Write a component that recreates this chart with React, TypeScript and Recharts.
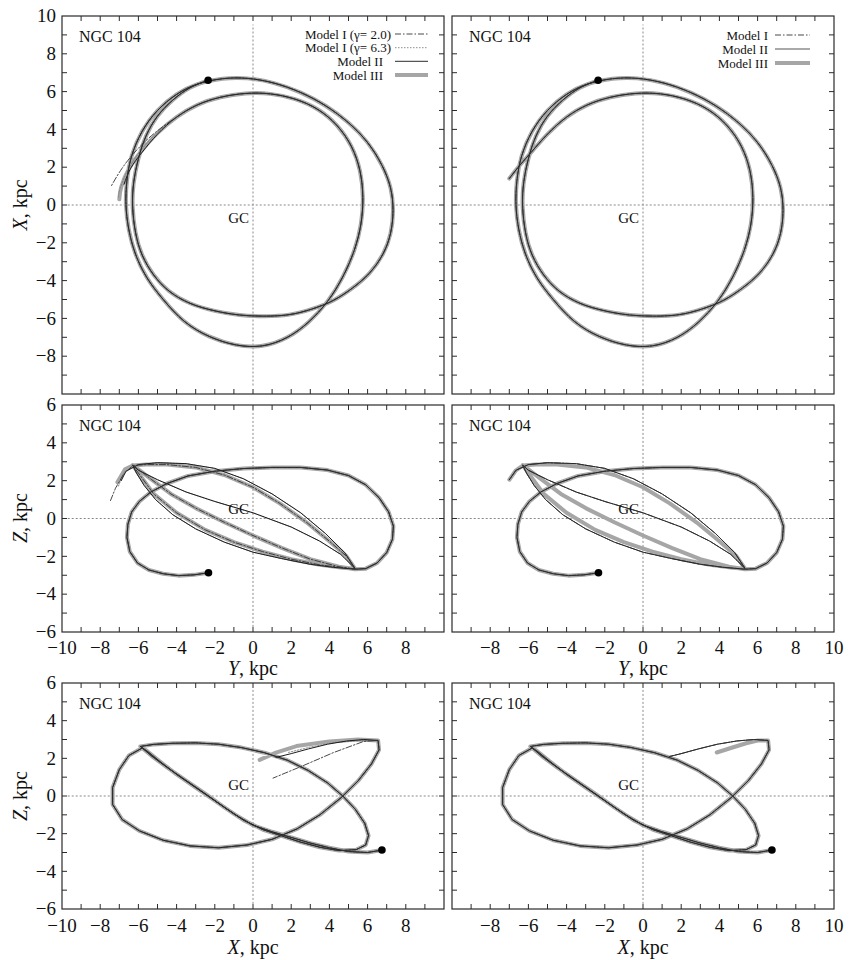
import React from 'react';
import { ScatterChart, Scatter, XAxis, YAxis, ReferenceLine } from 'recharts';

type Pt = [number, number];

// ---------- tick positions and labels ----------
const ticksH: number[] = [-10, -9, -8, -7, -6, -5, -4, -3, -2, -1, 0, 1, 2, 3, 4, 5, 6, 7, 8, 9, 10];
const ticksV10: number[] = [-10, -9, -8, -7, -6, -5, -4, -3, -2, -1, 0, 1, 2, 3, 4, 5, 6, 7, 8, 9, 10];
const ticksV6: number[] = [-6, -5, -4, -3, -2, -1, 0, 1, 2, 3, 4, 5, 6];
const labelsTopY: number[] = [10, 8, 6, 4, 2, 0, -2, -4, -6, -8];
const labelsSideY: number[] = [6, 4, 2, 0, -2, -4, -6];
const labelsXLeft: number[] = [-10, -8, -6, -4, -2, 0, 2, 4, 6, 8];
const labelsXRight: number[] = [-8, -6, -4, -2, 0, 2, 4, 6, 8, 10];

// ---------- XY plane: [Y, X] in kpc ----------
const xyOrbit: Pt[] = [
  [-2.35, 6.6], [-3.3, 6.2], [-4.2, 5.55], [-5.0, 4.7], [-5.6, 3.65], [-6.0, 2.45], [-6.25, 1.15], [-6.3, -0.1],
  [-6.15, -1.45], [-5.8, -2.65], [-5.2, -3.7], [-4.4, -4.55], [-3.3, -5.2], [-2.0, -5.6], [-0.7, -5.82], [0.6, -5.88],
  [1.9, -5.8], [3.1, -5.5], [4.2, -5.05], [5.2, -4.4], [6.1, -3.6], [6.8, -2.6], [7.2, -1.5], [7.33, -0.3],
  [7.2, 0.9], [6.75, 2.1], [6.0, 3.3], [5.0, 4.35], [3.8, 5.25], [2.5, 5.95], [1.1, 6.45], [-0.3, 6.7],
  [-1.6, 6.68], [-2.9, 6.4], [-4.0, 5.85], [-5.0, 5.0], [-5.8, 3.9], [-6.35, 2.6], [-6.6, 1.3], [-6.65, 0],
  [-6.5, -1.3], [-6.15, -2.6], [-5.55, -3.85], [-4.7, -5.0], [-3.6, -6.15], [-2.3, -6.95], [-0.9, -7.4], [0.5, -7.45],
  [1.8, -7.0], [2.9, -6.2], [3.9, -5.1], [4.7, -3.8], [5.3, -2.4], [5.65, -1.0], [5.75, 0.4], [5.6, 1.8],
  [5.15, 3.1], [4.4, 4.2], [3.4, 5.05], [2.2, 5.6], [0.9, 5.88], [-0.4, 5.9], [-1.7, 5.7], [-2.9, 5.3], [-4.0, 4.65],
];
const xyTailRight: Pt[] = [[-5.0, 3.75], [-5.8, 2.85], [-6.45, 2.1], [-7.0, 1.4]];
const xyTailLeftII: Pt[] = [[-5.0, 3.75], [-5.8, 2.8], [-6.4, 1.95], [-6.75, 1.1]];
const xyTailLeftIII: Pt[] = [[-5.0, 3.8], [-5.85, 2.85], [-6.5, 1.9], [-6.9, 0.95], [-7.0, 0.3]];
const xyTailLeftIa: Pt[] = [[-5.1, 3.85], [-6.05, 2.95], [-6.85, 1.95], [-7.45, 0.95]];
const xyTailLeftIb: Pt[] = [[-5.05, 3.8], [-5.9, 2.85], [-6.55, 1.85], [-6.95, 0.9], [-7.05, 0.4]];

// ---------- YZ plane: [Y, Z] in kpc ----------
const yzLoop: Pt[] = [
  [-2.33, -2.87], [-3.1, -2.98], [-3.9, -3.02], [-4.7, -2.92], [-5.45, -2.72], [-6.05, -2.35], [-6.45, -1.75], [-6.6, -1.0],
  [-6.55, -0.3], [-6.35, 0.35], [-5.95, 0.9], [-5.35, 1.4], [-4.5, 1.85], [-3.4, 2.25], [-2.0, 2.5], [-0.5, 2.64],
  [1.0, 2.7], [2.5, 2.7], [3.9, 2.56], [5.0, 2.27], [5.9, 1.78], [6.6, 1.1], [7.1, 0.35], [7.35, -0.4],
  [7.3, -1.1], [7.0, -1.8], [6.5, -2.35], [5.9, -2.65], [5.35, -2.68],
];
const yzBandII: Pt[] = [
  [4.2, -2.58], [3.0, -2.42], [1.5, -2.12], [0, -1.78], [-1.5, -1.25], [-3.0, -0.55], [-4.2, 0.2], [-5.1, 1.0],
  [-5.7, 1.75], [-6.1, 2.4], [-6.3, 2.82],
  [-6.0, 2.55], [-5.0, 2.05], [-3.5, 1.4], [-2.0, 0.9], [0, 0.3], [2.0, -0.45], [3.5, -1.2], [4.6, -1.9], [5.35, -2.65],
  [4.8, -1.8], [3.8, -0.8], [2.5, 0.3], [1.0, 1.3], [-0.5, 2.1], [-2.0, 2.65], [-3.5, 2.9], [-5.0, 2.95], [-6.0, 2.85],
];
const yzBandIII: Pt[] = [
  [4.5, -2.55], [3.0, -2.15], [1.5, -1.55], [0, -0.9], [-1.5, -0.2], [-3.0, 0.55], [-4.3, 1.3], [-5.3, 2.05],
  [-6.0, 2.6], [-6.3, 2.82],
  [-6.0, 2.4], [-5.2, 1.3], [-4.0, 0.3], [-2.5, -0.6], [-1.0, -1.25], [0.5, -1.75], [2.0, -2.15], [3.5, -2.45],
  [4.7, -2.6], [5.35, -2.66],
  [4.9, -2.0], [4.0, -1.2], [2.8, -0.2], [1.4, 0.8], [0, 1.65], [-1.5, 2.3], [-3.0, 2.7], [-4.5, 2.85], [-5.6, 2.85], [-6.3, 2.8],
];
const yzTailRight: Pt[] = [[-6.65, 2.55], [-7.0, 2.05]];
const yzTailLeftII: Pt[] = [[-6.65, 2.5], [-6.9, 2.0]];
const yzTailLeftIII: Pt[] = [[-6.7, 2.6], [-7.1, 1.92]];
const yzTailLeftIa: Pt[] = [[-6.8, 2.3], [-7.2, 1.6], [-7.46, 0.95]];
const yzTailLeftIb: Pt[] = [[-6.75, 2.45], [-7.05, 1.7]];

// ---------- XZ plane: [X, Z] in kpc ----------
const xzOrbit: Pt[] = [
  [6.75, -2.87], [6.0, -3.0], [5.0, -2.95], [4.0, -2.75], [3.0, -2.5], [2.0, -2.2], [1.0, -1.9], [0, -1.55],
  [-1.0, -0.95], [-2.0, -0.25], [-3.0, 0.45], [-4.0, 1.15], [-4.9, 1.85], [-5.5, 2.35], [-5.9, 2.63],
  [-5.2, 2.74], [-4.2, 2.8], [-3.0, 2.82], [-1.8, 2.75], [-0.6, 2.57], [0.6, 2.3], [1.8, 1.9], [2.9, 1.35],
  [3.9, 0.7], [4.7, 0.0], [5.35, -0.7], [5.85, -1.45], [6.05, -2.1], [5.9, -2.6], [5.4, -2.85],
  [4.5, -2.9], [3.5, -2.72], [2.5, -2.45], [1.5, -2.12], [0.5, -1.78], [-0.5, -1.28], [-1.5, -0.6], [-2.5, 0.12],
  [-3.5, 0.82], [-4.5, 1.52], [-5.3, 2.12], [-5.8, 2.55],
  [-6.5, 2.15], [-7.0, 1.4], [-7.35, 0.45], [-7.35, -0.45], [-6.85, -1.25], [-5.95, -1.85], [-4.7, -2.35],
  [-3.3, -2.65], [-1.8, -2.75], [-0.3, -2.6],
  [1.0, -2.3], [2.3, -1.75], [3.5, -1.0], [4.6, -0.1], [5.5, 0.8], [6.2, 1.7], [6.6, 2.45], [6.55, 2.95],
];
const xzTailRight: Pt[] = [[5.8, 3.0], [4.9, 2.92], [3.9, 2.75], [2.9, 2.5], [2.0, 2.25], [1.4, 2.1]];
const xzTailRightIII: Pt[] = [[6.0, 2.95], [5.4, 2.8], [4.6, 2.55], [3.86, 2.31]];
const xzTailLeftII: Pt[] = [[5.8, 3.0], [4.9, 2.92], [3.9, 2.75], [2.9, 2.5], [2.0, 2.25], [1.2, 2.05]];
const xzTailLeftIII: Pt[] = [[5.5, 3.0], [4.0, 2.9], [2.28, 2.65], [1.2, 2.3], [0.35, 1.92]];
const xzTailLeftIa: Pt[] = [[5.8, 2.9], [4.2, 2.3], [2.6, 1.6], [1.05, 0.95]];
const xzTailLeftIb: Pt[] = [[5.6, 2.95], [4.3, 2.85], [3.0, 2.6], [1.8, 2.3]];

// ---------- legends ----------
const legendLeft: string[] = ['Model I (\u03b3= 2.0)', 'Model I (\u03b3= 6.3)', 'Model II', 'Model III'];
const legendRight: string[] = ['Model I', 'Model II', 'Model III'];

// ---------- styles ----------
const FONT = "'Liberation Serif', 'Times New Roman', Times, serif";
const INK = '#2a2a2a';
type Style = { stroke: string; width: number; dash?: string };
const sIII: Style = { stroke: '#a6a6a6', width: 4 };
const sII: Style = { stroke: '#1c1c1c', width: 1 };
const sIa: Style = { stroke: '#333333', width: 0.9, dash: '6 2 1.5 2' };
const sIb: Style = { stroke: '#808080', width: 0.9, dash: '1.5 1.5' };

type Series = Style & { pts: Pt[] };
const cat = (...parts: Pt[][]): Pt[] => ([] as Pt[]).concat(...parts);

const toData = (pts: Pt[]) => pts.map(([h, v]) => ({ h, v }));
const fmt = (v: number) => (v < 0 ? '\u2212' + Math.abs(v) : String(v));

const ML = 60, MR = 10, MT = 10, MB = 50;

const Empty = () => <g />;
const DotShape = (p: any) => <circle cx={p.cx} cy={p.cy} r={3.8} fill="#000" />;

type PanelProps = {
  left: number; top: number; w: number; h: number;
  yDomain: [number, number]; yTicks: number[];
  xLabels: number[]; yLabels: number[]; xLabelDy: number;
  series: Series[]; curve: string;
};

function Panel(props: PanelProps) {
  const { left, top, w, h, yDomain, yTicks, xLabels, yLabels, xLabelDy, series, curve } = props;
  const XTick = (p: any) => {
    const v = p.payload.value;
    const x = p.x;
    return (
      <g>
        {v > -10 && v < 10 && (
          <g>
            <line x1={x} x2={x} y1={MT + h} y2={MT + h - 5} stroke={INK} strokeWidth={1} />
            <line x1={x} x2={x} y1={MT} y2={MT + 5} stroke={INK} strokeWidth={1} />
          </g>
        )}
        {xLabels.includes(v) && (
          <text x={x} y={MT + h + xLabelDy} textAnchor="middle" fontFamily={FONT} fontSize={19} fill="#111">
            {fmt(v)}
          </text>
        )}
      </g>
    );
  };
  const YTick = (p: any) => {
    const v = p.payload.value;
    const y = p.y;
    return (
      <g>
        {v > yDomain[0] && v < yDomain[1] && (
          <g>
            <line x1={ML} x2={ML + 5} y1={y} y2={y} stroke={INK} strokeWidth={1} />
            <line x1={ML + w} x2={ML + w - 5} y1={y} y2={y} stroke={INK} strokeWidth={1} />
          </g>
        )}
        {yLabels.includes(v) && (
          <text x={ML - 6} y={y} dy="0.33em" textAnchor="end" fontFamily={FONT} fontSize={19} fill="#111">
            {fmt(v)}
          </text>
        )}
      </g>
    );
  };
  const vExt = yDomain[1] * 0.955;
  const origin = series[0].pts[0];
  return (
    <div style={{ position: 'absolute', left: left - ML, top: top - MT }}>
      <ScatterChart width={w + ML + MR} height={h + MT + MB} margin={{ top: MT, right: MR, bottom: 0, left: 0 }}>
        <XAxis type="number" dataKey="h" domain={[-10, 10]} ticks={ticksH} interval={0} height={MB}
          axisLine={false} tickLine={false} tick={XTick} allowDataOverflow />
        <YAxis type="number" dataKey="v" domain={yDomain} ticks={yTicks} interval={0} width={ML}
          axisLine={false} tickLine={false} tick={YTick} allowDataOverflow />
        <ReferenceLine segment={[{ x: -9.7, y: 0 }, { x: 9.7, y: 0 }]} stroke="#8a8a8a" strokeDasharray="2 2" strokeWidth={1} />
        <ReferenceLine segment={[{ x: 0, y: -vExt }, { x: 0, y: vExt }]} stroke="#8a8a8a" strokeDasharray="2 2" strokeWidth={1} />
        {series.map((s, i) => (
          <Scatter key={i} data={toData(s.pts)} fill="none"
            line={{ stroke: s.stroke, strokeWidth: s.width, strokeDasharray: s.dash, strokeLinejoin: 'round', strokeLinecap: 'round' }}
            lineJointType={curve as any} shape={Empty} isAnimationActive={false} />
        ))}
        <Scatter data={toData([origin])} fill="#000" shape={DotShape} isAnimationActive={false} />
      </ScatterChart>
    </div>
  );
}

const LX = 62, RX = 452, PW = 382;
const panels = [
  { top: 16, h: 378 },
  { top: 405, h: 227 },
  { top: 683, h: 226 },
];

// series per panel
const xyLeft: Series[] = [
  { ...sIII, pts: cat(xyOrbit, xyTailLeftIII) },
  { ...sIb, pts: cat(xyOrbit, xyTailLeftIb) },
  { ...sII, pts: cat(xyOrbit, xyTailLeftII) },
  { ...sIa, pts: cat(xyOrbit, xyTailLeftIa) },
];
const xyRight: Series[] = [
  { ...sIII, pts: cat(xyOrbit, xyTailRight) },
  { ...sII, pts: cat(xyOrbit, xyTailRight) },
  { ...sIa, pts: cat(xyOrbit, xyTailRight) },
];
const yzLeft: Series[] = [
  { ...sIII, pts: cat(yzLoop, yzBandIII, yzTailLeftIII) },
  { ...sIb, pts: cat(yzLoop, yzBandII, yzTailLeftIb) },
  { ...sII, pts: cat(yzLoop, yzBandII, yzTailLeftII) },
  { ...sIa, pts: cat(yzLoop, yzBandIII, yzTailLeftIa) },
];
const yzRight: Series[] = [
  { ...sIII, pts: cat(yzLoop, yzBandIII, yzTailRight) },
  { ...sII, pts: cat(yzLoop, yzBandII, yzTailRight) },
  { ...sIa, pts: cat(yzLoop, yzBandII, yzTailRight) },
];
const xzLeft: Series[] = [
  { ...sIII, pts: cat(xzOrbit, xzTailLeftIII) },
  { ...sIb, pts: cat(xzOrbit, xzTailLeftIb) },
  { ...sII, pts: cat(xzOrbit, xzTailLeftII) },
  { ...sIa, pts: cat(xzOrbit, xzTailLeftIa) },
];
const xzRight: Series[] = [
  { ...sIII, pts: cat(xzOrbit, xzTailRightIII) },
  { ...sII, pts: cat(xzOrbit, xzTailRight) },
  { ...sIa, pts: cat(xzOrbit, xzTailRight) },
];

export default function App() {
  const txt = { fontFamily: FONT, fill: '#111' } as const;
  const gcDy = [18, -5, -6];
  return (
    <div style={{ position: 'absolute', left: 0, top: 0, width: 863, height: 960, background: '#fff' }}>
      <Panel left={LX} top={16} w={PW} h={378} yDomain={[-10, 10]} yTicks={ticksV10}
        xLabels={[]} yLabels={labelsTopY} xLabelDy={22} curve="natural" series={xyLeft} />
      <Panel left={RX} top={16} w={PW} h={378} yDomain={[-10, 10]} yTicks={ticksV10}
        xLabels={[]} yLabels={[]} xLabelDy={22} curve="natural" series={xyRight} />
      <Panel left={LX} top={405} w={PW} h={227} yDomain={[-6, 6]} yTicks={ticksV6}
        xLabels={labelsXLeft} yLabels={labelsSideY} xLabelDy={22} curve="linear" series={yzLeft} />
      <Panel left={RX} top={405} w={PW} h={227} yDomain={[-6, 6]} yTicks={ticksV6}
        xLabels={labelsXRight} yLabels={[]} xLabelDy={22} curve="linear" series={yzRight} />
      <Panel left={LX} top={683} w={PW} h={226} yDomain={[-6, 6]} yTicks={ticksV6}
        xLabels={labelsXLeft} yLabels={labelsSideY} xLabelDy={23} curve="linear" series={xzLeft} />
      <Panel left={RX} top={683} w={PW} h={226} yDomain={[-6, 6]} yTicks={ticksV6}
        xLabels={labelsXRight} yLabels={[]} xLabelDy={23} curve="linear" series={xzRight} />

      <svg width={863} height={960} style={{ position: 'absolute', left: 0, top: 0, pointerEvents: 'none' }}>
        {panels.map((p, i) => (
          <g key={i}>
            <rect x={LX} y={p.top} width={PW} height={p.h} fill="none" stroke={INK} strokeWidth={1.2} />
            <rect x={RX} y={p.top} width={PW} height={p.h} fill="none" stroke={INK} strokeWidth={1.2} />
            <text x={LX + 17} y={p.top + 26} fontSize={16} {...txt}>NGC 104</text>
            <text x={RX + 17} y={p.top + 26} fontSize={16} {...txt}>NGC 104</text>
            <text x={LX + PW / 2 - 4} y={p.top + p.h / 2 + gcDy[i]} fontSize={15} textAnchor="end" {...txt}>GC</text>
            <text x={RX + PW / 2 - 4} y={p.top + p.h / 2 + gcDy[i]} fontSize={15} textAnchor="end" {...txt}>GC</text>
          </g>
        ))}
        <text transform="translate(27,205) rotate(-90)" textAnchor="middle" fontSize={20} {...txt}>
          <tspan fontStyle="italic">X</tspan>, kpc
        </text>
        <text transform="translate(27,518) rotate(-90)" textAnchor="middle" fontSize={20} {...txt}>
          <tspan fontStyle="italic">Z</tspan>, kpc
        </text>
        <text transform="translate(27,796) rotate(-90)" textAnchor="middle" fontSize={20} {...txt}>
          <tspan fontStyle="italic">Z</tspan>, kpc
        </text>
        <text x={LX + PW / 2} y={675} textAnchor="middle" fontSize={20} {...txt}>
          <tspan fontStyle="italic">Y</tspan>, kpc
        </text>
        <text x={RX + PW / 2} y={675} textAnchor="middle" fontSize={20} {...txt}>
          <tspan fontStyle="italic">Y</tspan>, kpc
        </text>
        <text x={LX + PW / 2} y={954} textAnchor="middle" fontSize={20} {...txt}>
          <tspan fontStyle="italic">X</tspan>, kpc
        </text>
        <text x={RX + PW / 2} y={954} textAnchor="middle" fontSize={20} {...txt}>
          <tspan fontStyle="italic">X</tspan>, kpc
        </text>
        {legendLeft.map((name, i) => {
          const y = 34 + i * 13.7;
          const st = [sIa, sIb, { stroke: '#555', width: 1.1 }, { stroke: '#a6a6a6', width: 4 }][i] as Style;
          return (
            <g key={name}>
              <text x={i < 2 ? 391 : 383} y={y} dy="0.35em" textAnchor="end" fontSize={13} {...txt}>{name}</text>
              <line x1={395} x2={428} y1={y} y2={y} stroke={st.stroke} strokeWidth={st.width} strokeDasharray={st.dash} />
            </g>
          );
        })}
        {legendRight.map((name, i) => {
          const y = 35 + i * 14;
          const st = [sIa, { stroke: '#555', width: 1.1 }, { stroke: '#a6a6a6', width: 4 }][i] as Style;
          return (
            <g key={name}>
              <text x={768} y={y} dy="0.35em" textAnchor="end" fontSize={13} {...txt}>{name}</text>
              <line x1={775} x2={810} y1={y} y2={y} stroke={st.stroke} strokeWidth={st.width} strokeDasharray={st.dash} />
            </g>
          );
        })}
      </svg>
    </div>
  );
}
